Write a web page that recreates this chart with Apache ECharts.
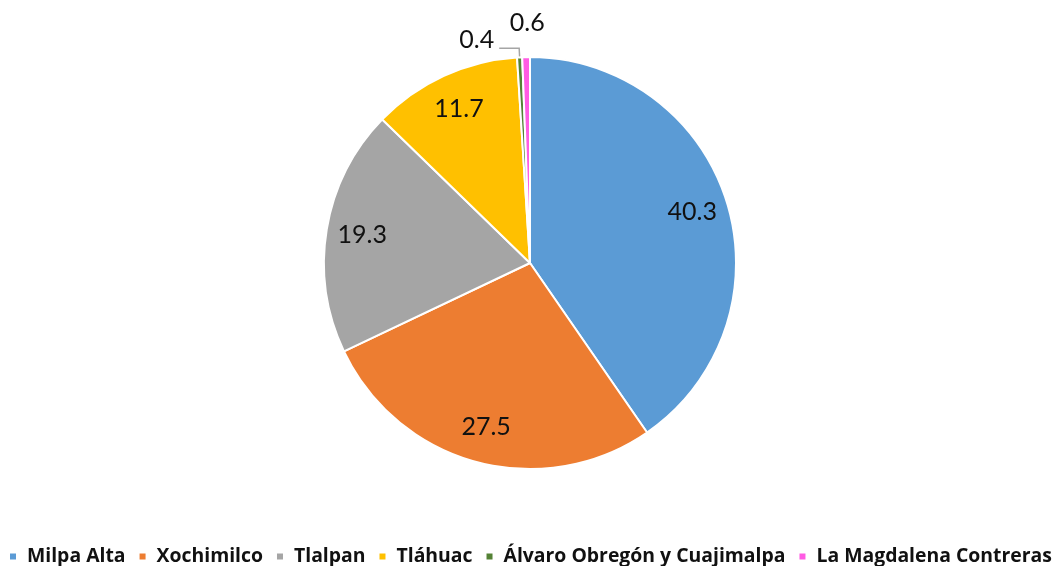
<!DOCTYPE html>
<html lang="es">
<head>
    <meta charset="UTF-8">
    <title>Pie</title>
    <script src="https://cdn.jsdelivr.net/npm/echarts@6/dist/echarts.min.js"></script>
    <style>
        html, body { margin: 0; padding: 0; background: #fff; }
    </style>
</head>
<body>
    <div id="echarts" style="width: 1064px; height: 566px;"></div>
    <script>
        const myChart = echarts.init(document.querySelector('#echarts'));
        const names = ['Milpa Alta', 'Xochimilco', 'Tlalpan', 'Tláhuac', 'Álvaro Obregón y Cuajimalpa', 'La Magdalena Contreras'];
        const values = [40.3, 27.5, 19.3, 11.7, 0.4, 0.6];
        const colors = ['#5B9BD5', '#ED7D31', '#A5A5A5', '#FFC000', '#548235', '#FF5BE3'];

        const labelFont = { fontFamily: 'Lato', fontSize: 25, color: '#111', fontWeight: 'normal' };

        // pie principal: solo 0.4 lleva etiqueta exterior con línea guía
        const mainData = names.map((n, i) => ({
            name: n,
            value: values[i],
            itemStyle: { color: colors[i] },
            label: { show: i === 4 }
        }));
        mainData[4].labelLine = { show: true, length: 9, length2: 20 };
        mainData[4].label.formatter = '{c}\n';
        mainData[4].label.lineHeight = 16;

        // anillo transparente: etiquetas grandes a ~80% del radio, y 0.6 encima
        const ringData = names.map((n, i) => ({
            name: n,
            value: values[i],
            label: { show: values[i] >= 1 }
        }));
        ringData[5].label = { show: true, position: 'outside' };
        ringData[5].labelLine = { show: false, length: 24, length2: 0 };

        const option = {
            color: colors,
            legend: {
                bottom: 0,
                left: 8,
                width: 1056,
                padding: 0,
                itemWidth: 8,
                itemHeight: 8,
                itemGap: 12,
                icon: 'rect',
                textStyle: {
                    fontFamily: 'Open Sans',
                    fontWeight: 'bold',
                    fontSize: 19.4,
                    color: '#111',
                    padding: [0, 0, 0, 5]
                },
                data: names
            },
            series: [
                {
                    type: 'pie',
                    center: [530, 263],
                    radius: [0, 206],
                    startAngle: 90,
                    clockwise: true,
                    avoidLabelOverlap: false,
                    itemStyle: { borderColor: '#fff', borderWidth: 2 },
                    label: Object.assign({ position: 'outside', formatter: '{c}' }, labelFont),
                    labelLine: { lineStyle: { color: '#A5A5A5', width: 1.5 } },
                    emphasis: { disabled: true },
                    data: mainData
                },
                {
                    type: 'pie',
                    center: [530, 263],
                    radius: [130, 204],
                    startAngle: 90,
                    clockwise: true,
                    silent: true,
                    avoidLabelOverlap: false,
                    legendHoverLink: false,
                    itemStyle: { color: 'transparent' },
                    label: Object.assign({ position: 'inside', formatter: '{c}' }, labelFont),
                    labelLine: { show: false },
                    labelLayout: p => (p.dataIndex === 5 ? { dx: 24, dy: -12, hideOverlap: false } : {}),
                    data: ringData
                }
            ]
        };
        myChart.setOption(option);
    </script>
</body>
</html>
